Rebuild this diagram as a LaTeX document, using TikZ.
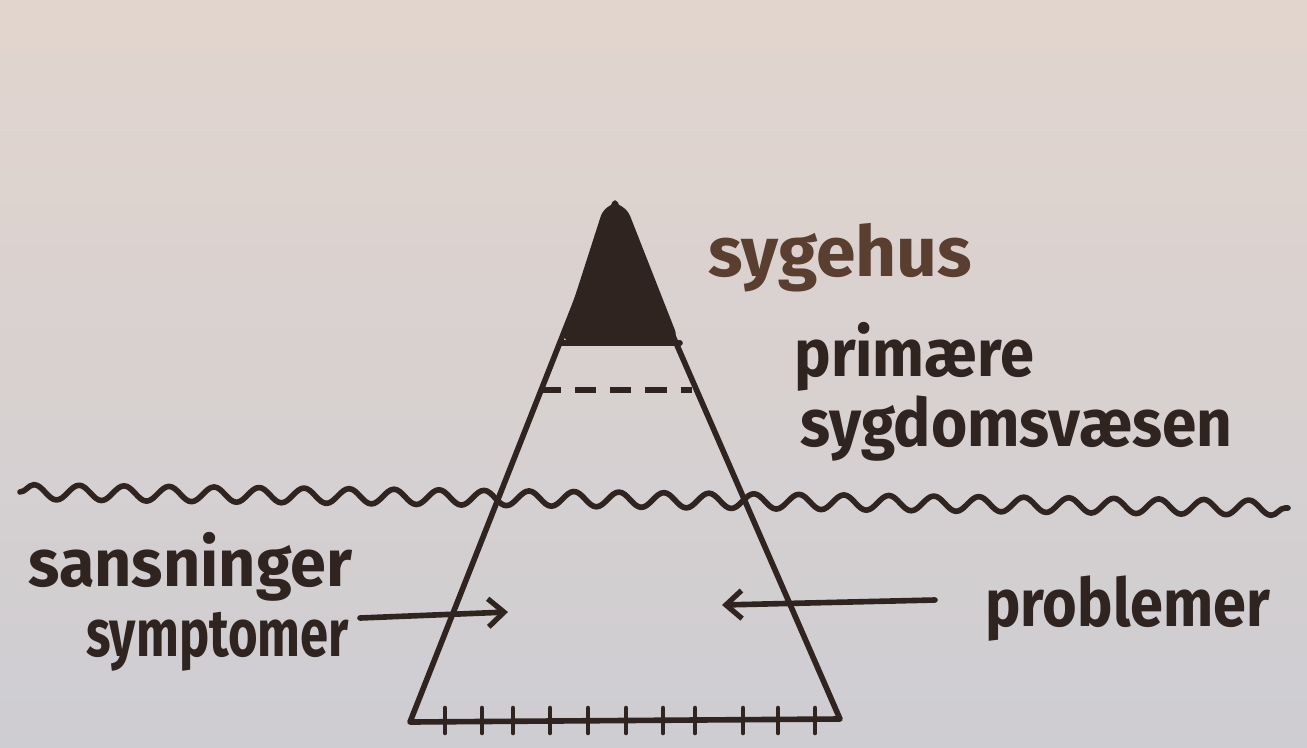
\documentclass[tikz,border=0pt]{standalone}
\usepackage{fontspec}
\setmainfont{Fira Sans}
\usetikzlibrary{arrows.meta,decorations.pathmorphing}
\definecolor{paper}{RGB}{226,213,206}
\definecolor{paperlow}{RGB}{206,205,210}
\definecolor{ink}{RGB}{48,36,33}
\definecolor{brownink}{RGB}{90,62,48}

\begin{document}
\begin{tikzpicture}[x=0.02cm,y=-0.02cm,>={Straight Barb[length=9pt,width=16pt,line width=3pt]},
  pen/.style={draw=ink,line width=3.2pt,line cap=round,line join=round},
  word/.style={text=ink,font=\fontsize{38}{44}\selectfont\bfseries,inner sep=0pt,anchor=base west}]
  % paper
  \shade[top color=paper,bottom color=paperlow] (0,0) rectangle (1307,747);
  \useasboundingbox (0,0) rectangle (1307,747);

  % pyramid
  \coordinate (top) at (615,203);
  \coordinate (bl)  at (410,722);
  \coordinate (br)  at (840,719);
  \coordinate (capl) at (560,343);
  \coordinate (capr) at (680,343);
  \fill[ink,rounded corners=8pt] (capl) -- (605,203) -- (625,203) -- (capr) -- cycle;
  \draw[pen] (top) -- (bl) -- (br) -- cycle;
  \draw[pen] (capl) -- (capr);
  \foreach \tx in {445,482,513,550,588,626,663,695,743,778,815}
    \draw[pen,line width=2.6pt] (\tx,708) -- (\tx,733);

  % dashed line
  \coordinate (dl) at (540,390);
  \coordinate (dr) at (692,390);
  \draw[pen,line cap=butt,dash pattern=on 12pt off 8pt] (dl) -- (dr);

  % water line
  \coordinate (wl) at (20,492);
  \coordinate (wr) at (1288,508);
  \draw[pen,decorate,decoration={snake,segment length=0.9cm,amplitude=0.15cm}] (wl) -- (wr);

  % labels
  \node[word,text=brownink] (sygehus) at (708,276) {\scalebox{1.07}[1.05]{sygehus}};
  \node[word] (prim) at (794,376) {\scalebox{0.92}[1]{primære}};
  \node[word] (sygd) at (800,446) {\scalebox{0.93}[1]{sygdomsvæsen}};
  \node[word] (sans) at (28,586) {\scalebox{0.97}[1]{sansninger}};
  \node[word] (symp) at (86,656) {\scalebox{0.76}[1]{symptomer}};
  \node[word] (prob) at (985,626) {\scalebox{0.89}[1]{problemer}};

  % arrows
  \coordinate (al1) at (360,618);
  \coordinate (al2) at (508,612);
  \coordinate (ar1) at (935,600);
  \coordinate (ar2) at (722,605);
  \draw[pen,->] (al1) -- (al2);
  \draw[pen,->] (ar1) -- (ar2);
\end{tikzpicture}
\end{document}
